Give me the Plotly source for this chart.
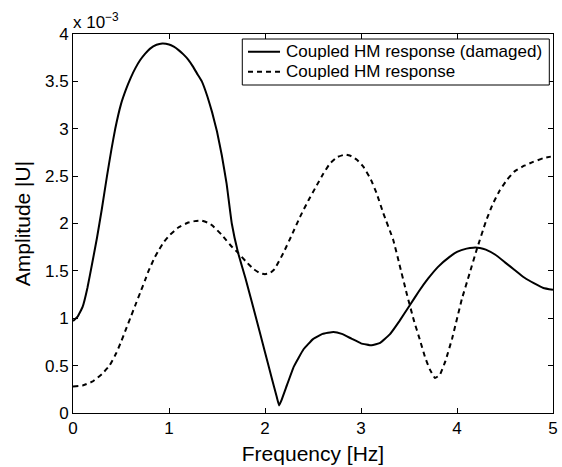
import plotly.graph_objects as go

# Frequency [Hz] and amplitude (x 1e-3)
freq_damaged = [0, 0.05, 0.1, 0.15, 0.2, 0.25, 0.3, 0.354, 0.4, 0.44, 0.5, 0.55, 0.6, 0.65,
                0.7, 0.75, 0.8, 0.87, 0.93, 1.0, 1.05, 1.1, 1.15, 1.2, 1.25, 1.3, 1.342,
                1.4, 1.45, 1.5, 1.55, 1.6, 1.654, 1.72, 1.8, 1.9, 2.0, 2.07, 2.12, 2.147,
                2.17, 2.22, 2.3, 2.4, 2.5, 2.6, 2.712, 2.8, 2.9, 3.0, 3.111, 3.2, 3.3,
                3.4, 3.51, 3.6, 3.7, 3.8, 3.926, 4.0, 4.1, 4.17, 4.238, 4.3, 4.4, 4.5,
                4.6, 4.7, 4.8, 4.9, 5.0]
amp_damaged = [0.97, 1.02, 1.12, 1.32, 1.58, 1.85, 2.15, 2.5, 2.78, 3.0, 3.26, 3.41, 3.535, 3.64,
               3.725, 3.79, 3.843, 3.886, 3.9, 3.89, 3.866, 3.83, 3.785, 3.73, 3.656, 3.57, 3.5,
               3.34, 3.17, 2.97, 2.72, 2.42, 2.0, 1.69, 1.41, 1.03, 0.64, 0.37, 0.18, 0.08,
               0.13, 0.27, 0.49, 0.67, 0.78, 0.835, 0.855, 0.835, 0.785, 0.735, 0.714, 0.74, 0.83,
               0.97, 1.14, 1.28, 1.42, 1.54, 1.65, 1.7, 1.735, 1.745, 1.742, 1.725, 1.67, 1.59,
               1.51, 1.43, 1.37, 1.32, 1.30]

freq_intact = [0, 0.1, 0.2, 0.3, 0.38, 0.45, 0.5, 0.55, 0.596, 0.65, 0.7, 0.75, 0.787, 0.85,
               0.9, 0.95, 1.0, 1.1, 1.2, 1.27, 1.342, 1.4, 1.45, 1.55, 1.65, 1.72, 1.8,
               1.88, 1.949, 2.0, 2.05, 2.1, 2.19, 2.28, 2.365, 2.45, 2.54, 2.61, 2.677,
               2.75, 2.834, 2.9, 2.96, 3.024, 3.1, 3.163, 3.232, 3.336, 3.4, 3.475, 3.55,
               3.614, 3.67, 3.718, 3.77, 3.82, 3.88, 3.95, 4.05, 4.13, 4.204, 4.3, 4.37,
               4.446, 4.52, 4.6, 4.7, 4.793, 4.9, 5.0]
amp_intact = [0.28, 0.29, 0.33, 0.41, 0.5, 0.63, 0.75, 0.88, 1.0, 1.14, 1.27, 1.4, 1.5, 1.64,
              1.73, 1.81, 1.87, 1.96, 2.01, 2.025, 2.03, 2.01, 1.98, 1.88, 1.76, 1.69, 1.6,
              1.52, 1.475, 1.465, 1.475, 1.52, 1.686, 1.88, 2.07, 2.24, 2.405, 2.53, 2.634,
              2.7, 2.728, 2.71, 2.67, 2.6, 2.47, 2.318, 2.11, 1.826, 1.57, 1.265, 0.98,
              0.77, 0.58, 0.458, 0.37, 0.4, 0.55, 0.79, 1.2, 1.47, 1.72, 2.02, 2.2,
              2.35, 2.46, 2.55, 2.61, 2.65, 2.69, 2.71]

series_names = ["Coupled HM response (damaged)", "Coupled HM response"]
series_dash = ["solid", "5px,4px"]

x_ticks = [0, 1, 2, 3, 4, 5]
y_ticks = [0, 0.5, 1, 1.5, 2, 2.5, 3, 3.5, 4]
y_tick_text = ["0", "0.5", "1", "1.5", "2", "2.5", "3", "3.5", "4"]

scale = 1e-3
font = "Liberation Sans, Arial, Helvetica, sans-serif"

fig = go.Figure()
fig.add_trace(go.Scatter(x=freq_damaged, y=[v * scale for v in amp_damaged], mode="lines",
                         name=series_names[0],
                         line=dict(color="black", width=2, dash=series_dash[0],
                                   shape="spline", smoothing=0.3)))
fig.add_trace(go.Scatter(x=freq_intact, y=[v * scale for v in amp_intact], mode="lines",
                         name=series_names[1],
                         line=dict(color="black", width=2, dash=series_dash[1],
                                   shape="spline", smoothing=0.3)))

# MATLAB-style legend box (drawn in paper coordinates)
box = dict(x0=0.3527, x1=0.9923, y0=0.8654, y1=0.9868)
row_y = [0.9533, 0.9005]
shapes = [dict(type="rect", xref="paper", yref="paper", layer="above",
               fillcolor="white", line=dict(color="black", width=1), **box)]
annotations = []
for name, dash, yy in zip(series_names, series_dash, row_y):
    shapes.append(dict(type="line", xref="paper", yref="paper", layer="above",
                       x0=0.3646, x1=0.4313, y0=yy, y1=yy,
                       line=dict(color="black", width=2, dash=dash)))
    annotations.append(dict(text=name, xref="paper", yref="paper", x=0.4402, y=yy,
                            xanchor="left", yanchor="middle", showarrow=False,
                            font=dict(size=17)))
annotations.append(dict(text="x 10<sup>−3</sup>", xref="paper", yref="paper", x=0, y=1,
                        xanchor="left", yanchor="bottom", showarrow=False,
                        font=dict(size=17), xshift=-2, yshift=0))

fig.update_layout(
    width=562, height=467,
    margin=dict(l=73, r=9, t=34, b=54),
    paper_bgcolor="white", plot_bgcolor="white",
    font=dict(family=font, color="black", size=17),
    showlegend=False,
    shapes=shapes,
    annotations=annotations,
    xaxis=dict(range=[0, 5], tickvals=x_ticks, ticks="inside", ticklen=5, tickcolor="black",
               showline=True, linecolor="black", linewidth=1, mirror="ticks",
               showgrid=False, zeroline=False, automargin=False,
               title=dict(text="Frequency [Hz]", font=dict(size=21), standoff=8),
               tickfont=dict(size=17)),
    yaxis=dict(range=[0, 4 * scale], tickvals=[v * scale for v in y_ticks], ticktext=y_tick_text,
               ticks="inside", ticklen=5, tickcolor="black",
               showline=True, linecolor="black", linewidth=1, mirror="ticks",
               showgrid=False, zeroline=False, automargin=False,
               title=dict(text="Amplitude |U|", font=dict(size=21), standoff=8),
               tickfont=dict(size=17)),
)

fig.write_html("out.html")
